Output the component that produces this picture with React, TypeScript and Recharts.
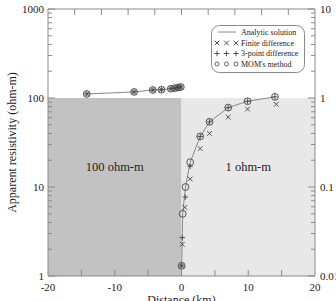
import {
  ComposedChart,
  Line,
  Scatter,
  XAxis,
  YAxis,
  ReferenceArea,
} from "recharts"

// left half (100 ohm-m side), read on the left axis
const leftDist = [-14.2, -7.1, -4.3, -3.0, -1.6, -1.0, -0.5, -0.1]
const leftRho = [111, 117, 123, 124, 127, 129, 131, 133]

// right half (1 ohm-m side), read on the right axis
const momDist = [0.03, 0.18, 0.6, 1.3, 2.8, 4.2, 7.0, 9.9, 14.0]
const momRho = [0.013, 0.05, 0.1, 0.19, 0.37, 0.54, 0.78, 0.92, 1.03]
const fdDist = [0.03, 0.12, 0.5, 1.3, 2.8, 4.2, 7.0, 9.9, 14.2]
const fdRho = [0.013, 0.0227, 0.059, 0.123, 0.27, 0.4, 0.61, 0.75, 0.85]
const tpDist = [0.03, 0.12, 0.57, 1.3, 2.8, 4.2, 7.0, 9.9, 14.0]
const tpRho = [0.013, 0.027, 0.077, 0.171, 0.37, 0.54, 0.78, 0.92, 1.03]

const bottomTicks = [-20, -15, -10, -5, 0, 5, 10, 15, 20]
const topTicks = [-16, -12, -8, -4, 0, 4, 8, 12, 16]
const leftTicks = [
  1, 2, 3, 4, 5, 6, 7, 8, 9, 10, 20, 30, 40, 50, 60, 70, 80, 90, 100, 200, 300, 400, 500, 600,
  700, 800, 900, 1000,
]
const leftMajor = [1, 10, 100, 1000]
const rightTicks = [
  0.01, 0.02, 0.03, 0.04, 0.05, 0.06, 0.07, 0.08, 0.09, 0.1, 0.2, 0.3, 0.4, 0.5, 0.6, 0.7, 0.8,
  0.9, 1, 2, 3, 4, 5, 6, 7, 8, 9, 10,
]
const rightMajor = [0.01, 0.1, 1, 10]
const legendNames = ["Analytic solution", "Finite difference", "3-point difference", "MOM's method"]

const zip = (xs: number[], ys: number[]) => xs.map((x, i) => ({ x, y: ys[i] }))

const FONT = "Liberation Serif"
const AXIS = "#8a8a8a"
const MARK = "#444"

function BottomTick({ x, y, payload }: any) {
  const v = payload.value
  return (
    <g>
      {Math.abs(v) < 20 && <line x1={x} y1={y} x2={x} y2={y - 6} stroke={AXIS} />}
      {v % 10 === 0 && (
        <text x={x} y={y + 15} textAnchor="middle" fontFamily={FONT} fontSize={11} fill="#222">
          {v}
        </text>
      )}
    </g>
  )
}

function TopTick({ x, y }: any) {
  return <line x1={x} y1={y} x2={x} y2={y + 6} stroke={AXIS} />
}

function LeftTick({ x, y, payload }: any) {
  const major = leftMajor.includes(payload.value)
  return (
    <g>
      <line x1={x} y1={y} x2={x + (major ? 7 : 4)} y2={y} stroke={AXIS} />
      {major && (
        <text x={x - 4} y={y + 4} textAnchor="end" fontFamily={FONT} fontSize={11} fill="#222">
          {payload.value}
        </text>
      )}
    </g>
  )
}

function RightTick({ x, y, payload }: any) {
  const major = rightMajor.includes(payload.value)
  return (
    <g>
      <line x1={x} y1={y} x2={x - (major ? 7 : 4)} y2={y} stroke={AXIS} />
      {major && (
        <text x={x + 5} y={y + 4} textAnchor="start" fontFamily={FONT} fontSize={11} fill="#222">
          {payload.value}
        </text>
      )}
    </g>
  )
}

const Circ = ({ cx, cy }: any) => (
  <circle cx={cx} cy={cy} r={3.4} fill="none" stroke={MARK} strokeWidth={0.9} />
)
const Cross = ({ cx, cy }: any) => (
  <path
    d={`M${cx - 2.4},${cy - 2.4}L${cx + 2.4},${cy + 2.4}M${cx - 2.4},${cy + 2.4}L${cx + 2.4},${cy - 2.4}`}
    stroke={MARK}
    strokeWidth={0.9}
  />
)
const Plus = ({ cx, cy }: any) => (
  <path
    d={`M${cx - 2.8},${cy}L${cx + 2.8},${cy}M${cx},${cy - 2.8}L${cx},${cy + 2.8}`}
    stroke={MARK}
    strokeWidth={0.9}
  />
)

function LegendBox() {
  const cols = [6, 15.5, 25]
  return (
    <svg width={95} height={49} style={{ display: "block" }}>
      <rect x={0.5} y={0.5} width={93} height={47} rx={8} fill="#fff" stroke={AXIS} />
      <line x1={7} y1={7} x2={25} y2={7} stroke="#888" />
      {cols.map((c) => (
        <g key={c}>
          <Cross cx={c} cy={18} />
          <Plus cx={c} cy={28.5} />
          <circle cx={c} cy={39} r={2} fill="none" stroke={MARK} strokeWidth={0.8} />
        </g>
      ))}
      {legendNames.map((r, i) => (
        <text key={r} x={30} y={10 + i * 10.7} fontFamily={FONT} fontSize={8} fill="#222">
          {r}
        </text>
      ))}
    </svg>
  )
}

export default function App() {
  return (
    <div style={{ position: "absolute", left: 0, top: 0, width: 336, height: 301 }}>
      <ComposedChart width={336} height={301} margin={{ top: 0, right: 0, bottom: 0, left: 0 }}>
        <XAxis
          xAxisId="b"
          dataKey="x"
          type="number"
          domain={[-20, 20]}
          ticks={bottomTicks}
          interval={0}
          allowDataOverflow
          height={25}
          tickSize={0}
          tickMargin={0}
          tickLine={false}
          tick={(p: any) => <BottomTick {...p} />}
          stroke={AXIS}
          label={{
            value: "Distance (km)",
            position: "bottom",
            offset: -6,
            style: { fontFamily: FONT, fontSize: 12, fill: "#222" },
          }}
        />
        <XAxis
          xAxisId="t"
          dataKey="x"
          orientation="top"
          type="number"
          domain={[-20, 20]}
          ticks={topTicks}
          interval={0}
          allowDataOverflow
          height={9}
          tickSize={0}
          tickMargin={0}
          tickLine={false}
          tick={(p: any) => <TopTick {...p} />}
          stroke={AXIS}
        />
        <YAxis
          yAxisId="l"
          type="number"
          scale="log"
          domain={[1, 1000]}
          ticks={leftTicks}
          interval={0}
          allowDataOverflow
          width={48}
          tickSize={0}
          tickMargin={0}
          tickLine={false}
          tick={(p: any) => <LeftTick {...p} />}
          stroke={AXIS}
          label={{
            value: "Apparent resistivity (ohm-m)",
            angle: -90,
            position: "insideLeft",
            offset: 12,
            style: { fontFamily: FONT, fontSize: 12, fill: "#222", textAnchor: "middle" },
          }}
        />
        <YAxis
          yAxisId="r"
          orientation="right"
          type="number"
          scale="log"
          domain={[0.01, 10]}
          ticks={rightTicks}
          interval={0}
          allowDataOverflow
          width={21}
          tickSize={0}
          tickMargin={0}
          tickLine={false}
          tick={(p: any) => <RightTick {...p} />}
          stroke={AXIS}
        />
        <ReferenceArea
          xAxisId="b"
          yAxisId="l"
          x1={-20}
          x2={0}
          y1={1}
          y2={100}
          fill="#c2c2c2"
          fillOpacity={1}
          stroke="none"
          label={{
            value: "100 ohm-m",
            position: "insideTop",
            offset: 64,
            style: { fontFamily: FONT, fontSize: 12.5, fill: "#222" },
          }}
        />
        <ReferenceArea
          xAxisId="b"
          yAxisId="l"
          x1={0}
          x2={20}
          y1={1}
          y2={100}
          fill="#e8e8e8"
          fillOpacity={1}
          stroke="none"
          label={{
            value: "1 ohm-m",
            position: "insideTop",
            offset: 64,
            style: { fontFamily: FONT, fontSize: 12.5, fill: "#222" },
          }}
        />
        <Line
          xAxisId="b"
          yAxisId="l"
          data={zip(leftDist, leftRho)}
          dataKey="y"
          stroke="#888"
          strokeWidth={1}
          dot={false}
          isAnimationActive={false}
        />
        <Line
          xAxisId="b"
          yAxisId="r"
          data={zip(momDist, momRho)}
          dataKey="y"
          stroke="#888"
          strokeWidth={1}
          dot={false}
          isAnimationActive={false}
        />
        <Scatter xAxisId="b" yAxisId="l" data={zip(leftDist, leftRho)} dataKey="y" shape={Cross} isAnimationActive={false} />
        <Scatter xAxisId="b" yAxisId="l" data={zip(leftDist, leftRho)} dataKey="y" shape={Plus} isAnimationActive={false} />
        <Scatter xAxisId="b" yAxisId="l" data={zip(leftDist, leftRho)} dataKey="y" shape={Circ} isAnimationActive={false} />
        <Scatter xAxisId="b" yAxisId="r" data={zip(fdDist, fdRho)} dataKey="y" shape={Cross} isAnimationActive={false} />
        <Scatter xAxisId="b" yAxisId="r" data={zip(tpDist, tpRho)} dataKey="y" shape={Plus} isAnimationActive={false} />
        <Scatter xAxisId="b" yAxisId="r" data={zip(momDist, momRho)} dataKey="y" shape={Circ} isAnimationActive={false} />
      </ComposedChart>
      <div style={{ position: "absolute", left: 211, top: 25 }}>
        <LegendBox />
      </div>
    </div>
  )
}
